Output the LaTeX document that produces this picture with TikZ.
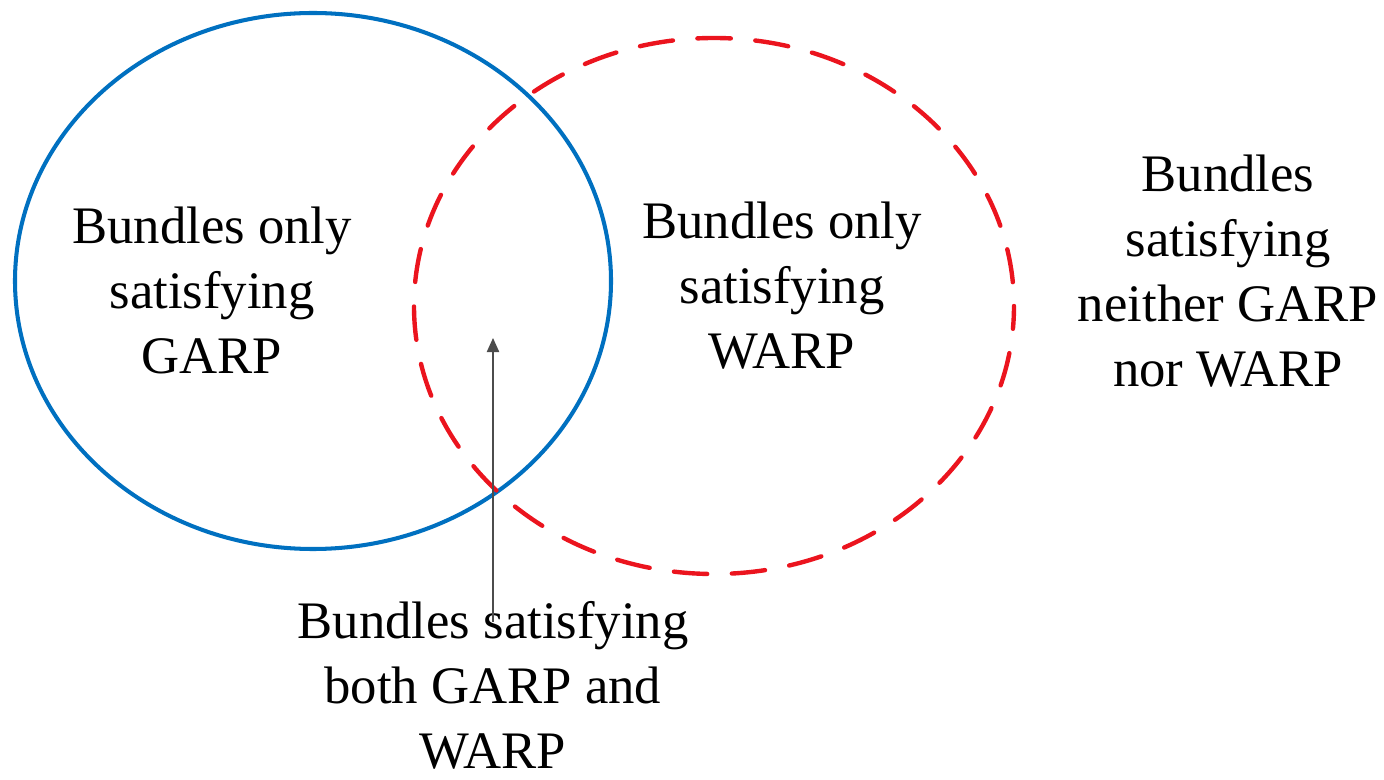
\documentclass[tikz,border=0pt]{standalone}
\usepackage{fontspec}
\setmainfont{Liberation Serif}
\usetikzlibrary{arrows.meta}
\definecolor{garpblue}{RGB}{0,112,192}
\definecolor{warpred}{RGB}{235,20,30}
\begin{document}
\begin{tikzpicture}[x=0.02cm,y=-0.02cm,
  lbl/.style={align=center,font=\fontsize{30}{37}\selectfont,inner sep=0pt}]
  \useasboundingbox (0,0) rectangle (1384,780);
  \draw[garpblue,line width=2.3pt] (313,281) ellipse [x radius=298,y radius=268];
  \draw[warpred,line width=2.5pt,line cap=round,dash pattern=on 19pt off 14pt,dash phase=6pt]
    (714,306) ellipse [x radius=300,y radius=268];
  \node[lbl] (garp) at (212,290) {Bundles only\\satisfying\\GARP};
  \node[lbl] (warp) at (782,286) {Bundles only\\satisfying\\WARP};
  \node[lbl] (neither) at (1228,271) {Bundles\\satisfying\\neither GARP\\nor WARP};
  \node[lbl] (both) at (493,685) {Bundles satisfying\\both GARP and\\WARP};
  \coordinate (foot) at (493,622);
  \coordinate (tip) at (493,338);
  \draw[black!70,line width=0.8pt,-{Triangle[length=8pt,width=7pt]}] (foot) -- (tip);
\end{tikzpicture}
\end{document}
